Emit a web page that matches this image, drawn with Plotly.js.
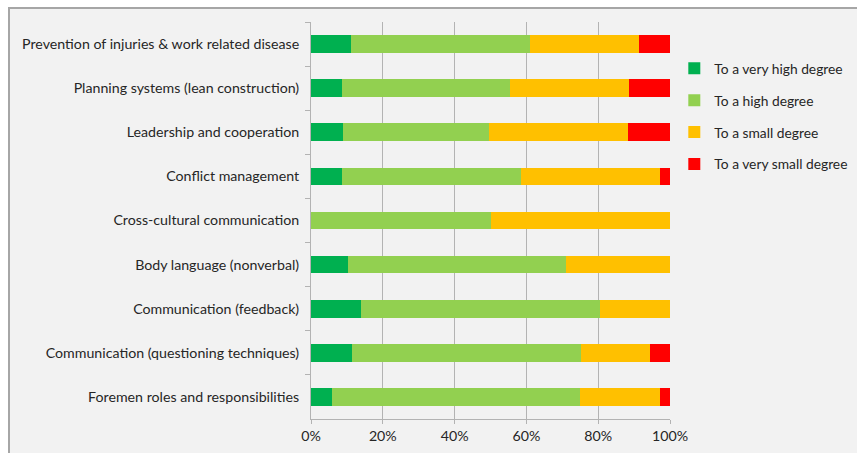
<!DOCTYPE html>
<html>
<head>
<meta charset="utf-8">
<script src="https://cdn.plot.ly/plotly-3.0.1.min.js"></script>
<style>
html,body{margin:0;padding:0;background:#ffffff;overflow:hidden;}
#chart{position:absolute;left:8px;top:7px;width:847px;height:446px;border-left:2px solid #a6a6a6;border-top:2px solid #a6a6a6;background:#f2f2f2;}
</style>
</head>
<body>
<div id="chart"></div>
<script>
const categories = [
  "Prevention of injuries & work related disease",
  "Planning systems (lean construction)",
  "Leadership and cooperation",
  "Conflict management",
  "Cross-cultural communication",
  "Body language (nonverbal)",
  "Communication (feedback)",
  "Communication (questioning techniques)",
  "Foremen roles and responsibilities"
];
const veryHigh  = [11.1, 8.5, 8.8, 8.5, 0, 10.4, 14.0, 11.4, 5.9];
const high      = [50.0, 46.8, 40.9, 50.0, 50.0, 60.7, 66.5, 63.8, 69.0];
const small     = [30.4, 33.3, 38.7, 38.6, 50.0, 28.9, 19.5, 19.3, 22.2];
const verySmall = [8.5, 11.4, 11.6, 2.9, 0, 0, 0, 5.5, 2.9];
const seriesNames = ["To a very high degree", "To a high degree", "To a small degree", "To a very small degree"];
const seriesColors = ["#00b050", "#92d050", "#ffc000", "#ff0000"];
const xTickVals = [0, 20, 40, 60, 80, 100];
const xTickText = ["0%", "20%", "40%", "60%", "80%", "100%"];

const allSeries = [veryHigh, high, small, verySmall];
const traces = allSeries.map((vals, i) => ({
  type: "bar",
  orientation: "h",
  name: seriesNames[i],
  y: categories,
  x: vals,
  marker: {color: seriesColors[i], line: {width: 0}},
  legendgroup: "g" + i,
  hoverinfo: "x+name"
}));

const font = {family: "Lato, 'Open Sans', sans-serif", size: 14.2, color: "#262626"};

const layout = {
  width: 847,
  height: 446,
  paper_bgcolor: "#f2f2f2",
  plot_bgcolor: "#f2f2f2",
  barmode: "stack",
  bargap: 0.6,
  font: font,
  margin: {l: 301, r: 187, t: 13, b: 36, pad: 0, autoexpand: false},
  showlegend: true,
  legend: {
    x: 1.012, xanchor: "left",
    y: 0.9225, yanchor: "top",
    traceorder: "grouped",
    tracegroupgap: 11,
    bgcolor: "rgba(0,0,0,0)",
    font: {family: font.family, size: 13.8, color: "#262626"},
    itemwidth: 30
  },
  xaxis: {
    range: [0, 100],
    tickvals: xTickVals,
    ticktext: xTickText,
    showgrid: true,
    gridcolor: "#b3b3b3",
    gridwidth: 1,
    zeroline: false,
    showline: true,
    linecolor: "#b3b3b3",
    linewidth: 1,
    ticks: "outside",
    ticklen: 4,
    tickcolor: "#b3b3b3",
    fixedrange: true
  },
  yaxis: {
    type: "category",
    autorange: "reversed",
    showline: true,
    linecolor: "#b3b3b3",
    linewidth: 1,
    ticks: "outside",
    tickson: "boundaries",
    ticklen: 5,
    tickcolor: "#b3b3b3",
    showgrid: false,
    ticklabelstandoff: 8,
    fixedrange: true
  }
};

Plotly.newPlot("chart", traces, layout, {displayModeBar: false, staticPlot: true});
</script>
</body>
</html>
